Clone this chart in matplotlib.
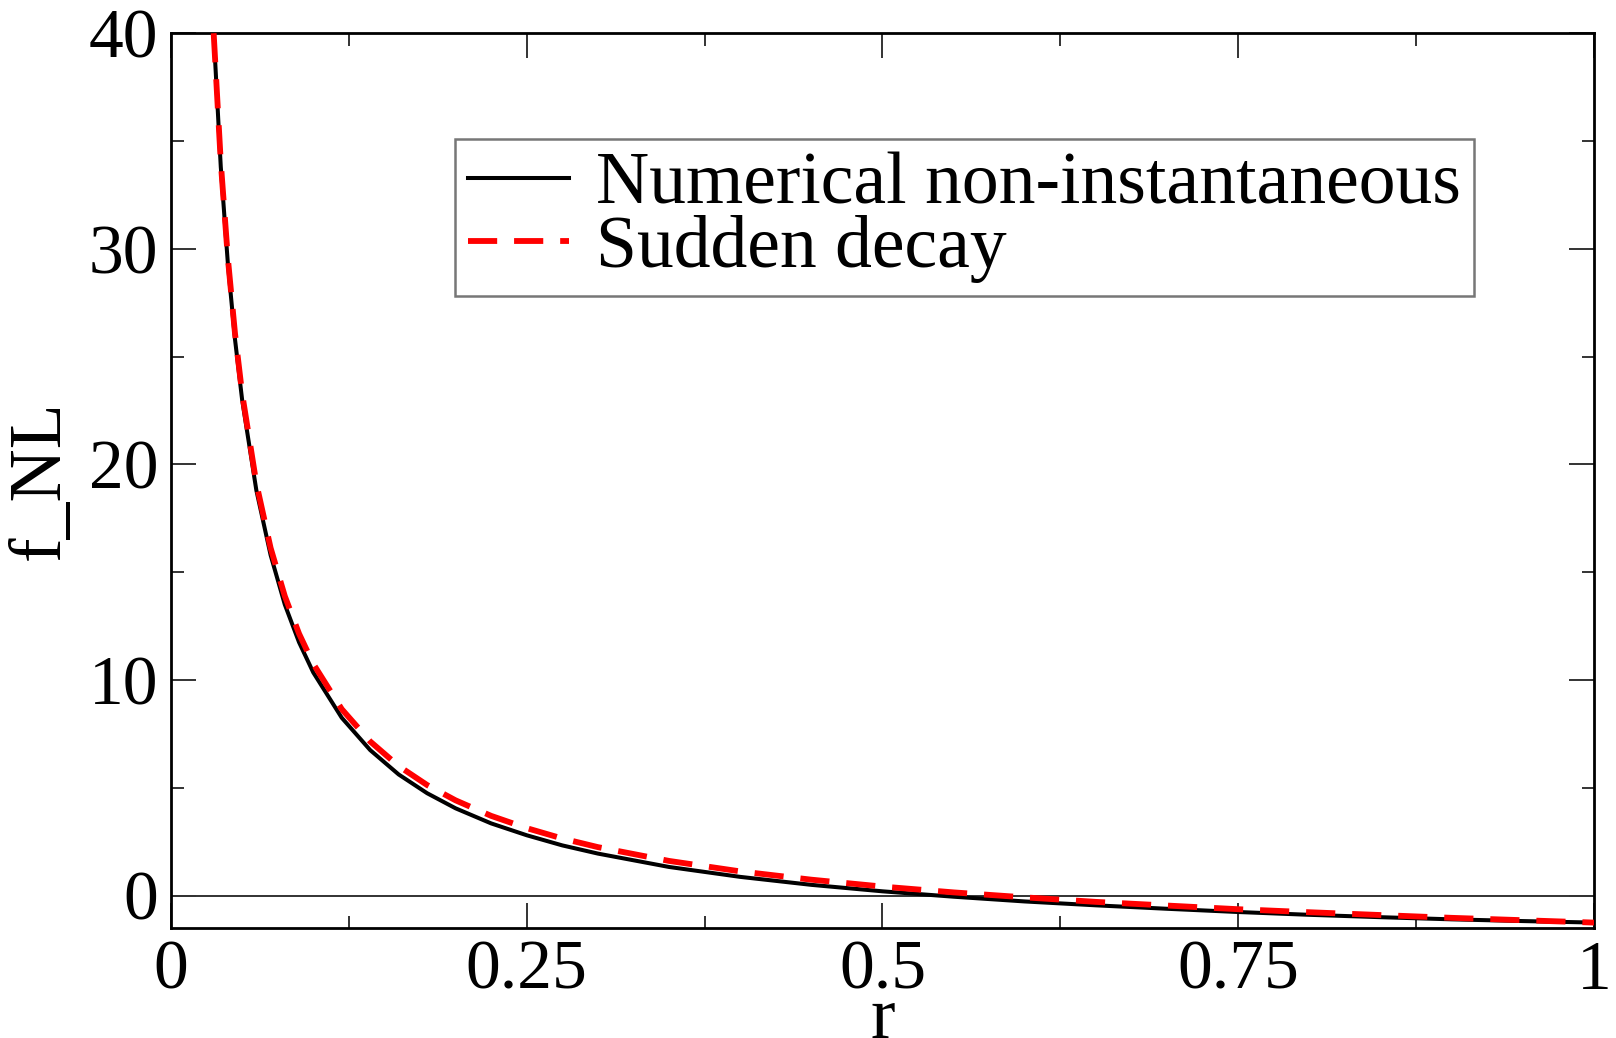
import matplotlib
matplotlib.use("Agg")
import matplotlib.pyplot as plt

# values
r_vals = [0.03, 0.035, 0.04, 0.045, 0.05, 0.06, 0.07, 0.08, 0.09, 0.10,
          0.12, 0.14, 0.16, 0.18, 0.20, 0.225, 0.25, 0.275, 0.30, 0.35,
          0.40, 0.45, 0.50, 0.55, 0.60, 0.65, 0.70, 0.75, 0.80, 0.85,
          0.90, 0.95, 1.00]

fnl_numerical = [40.0, 33.8, 29.3, 25.8, 23.0, 18.8, 15.8, 13.5, 11.75, 10.35,
                 8.25, 6.75, 5.62, 4.75, 4.05, 3.35, 2.80, 2.33, 1.95, 1.33,
                 0.87, 0.50, 0.20, -0.05, -0.27, -0.45, -0.61, -0.76, -0.89, -1.00,
                 -1.10, -1.18, -1.25]

fnl_sudden = [40.0, 34.02, 29.55, 26.07, 23.29, 19.12, 16.13, 13.89, 12.15, 10.75,
              8.65, 7.15, 6.01, 5.13, 4.42, 3.70, 3.13, 2.65, 2.25, 1.61,
              1.125, 0.74, 0.42, 0.15, -0.08, -0.29, -0.46, -0.63, -0.77, -0.90,
              -1.03, -1.14, -1.25]

labels = ["Numerical non-instantaneous", "Sudden decay"]
x_ticks = [0, 0.25, 0.5, 0.75, 1]
x_ticklabels = ["0", "0.25", "0.5", "0.75", "1"]
y_ticks = [0, 10, 20, 30, 40]

plt.rcParams["font.family"] = ["Liberation Serif", "DejaVu Serif"]

fig = plt.figure(figsize=(16.16, 10.38), dpi=100, facecolor="white")
ax = fig.add_axes([0.1058, 0.106, 0.8806, 0.862])

# zero line
ax.axhline(0, color="#222222", lw=1.3, zorder=1)

ax.plot(r_vals, fnl_numerical, color="black", lw=2.9, label=labels[0], zorder=2)
ax.plot(r_vals, fnl_sudden, color="#ff0000", lw=4.2, dashes=(5.0, 2.9),
        label=labels[1], zorder=3)

ax.set_xlim(0, 1)
ax.set_ylim(-1.5, 40)
ax.set_xticks(x_ticks)
ax.set_xticklabels(x_ticklabels)
ax.set_xticks([0.125, 0.375, 0.625, 0.875], minor=True)
ax.set_yticks(y_ticks)
ax.set_yticks([5, 15, 25, 35], minor=True)

ax.tick_params(which="both", direction="in", top=True, right=True,
               labelsize=50, width=1.4, color="#333333")
ax.tick_params(which="major", length=18, pad=9)
ax.tick_params(which="minor", length=9)

for sp in ax.spines.values():
    sp.set_linewidth(2.0)

ax.set_xlabel("r", fontsize=53, labelpad=-12.5)
ax.set_ylabel("f_NL", fontsize=53, labelpad=10)

leg = ax.legend(loc="upper left", bbox_to_anchor=(0.1996, 0.882), fontsize=53,
                frameon=True, fancybox=False, edgecolor="#555555",
                handlelength=1.37, handletextpad=0.37, borderpad=0.18,
                labelspacing=-0.06, borderaxespad=0)
leg.get_frame().set_linewidth(1.8)

fig.savefig("out.png", dpi=100, facecolor="white")
